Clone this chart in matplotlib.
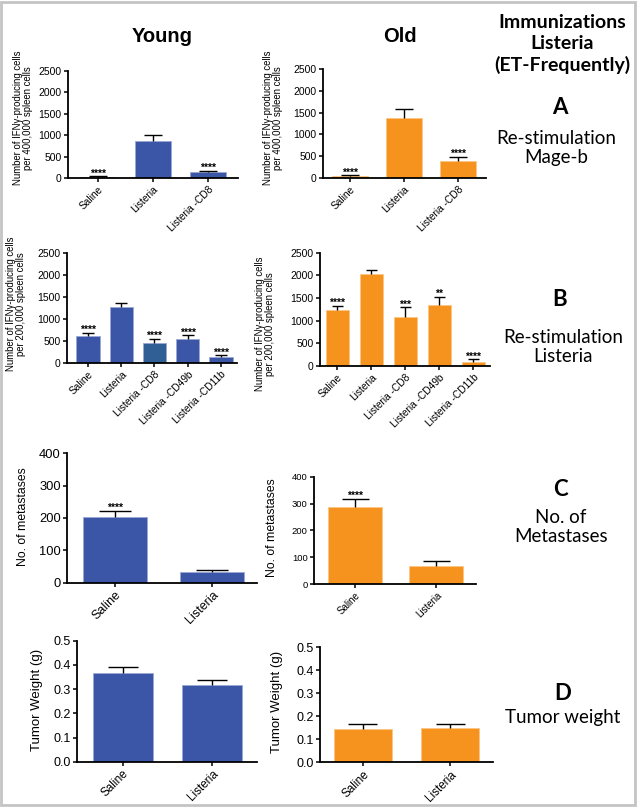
import matplotlib
matplotlib.use("Agg")
import matplotlib.pyplot as plt
from matplotlib.patches import Rectangle

W, H = 638, 809
plt.rcParams['font.family'] = ['Liberation Sans', 'DejaVu Sans']

BLUE = '#3b56a6'
BLUE_CD8 = '#2f5f95'
ORANGE = '#f6931f'

# ---------------- data ----------------
cats_A = ['Saline', 'Listeria', 'Listeria -CD8']
young_A = [30, 860, 130]
young_A_top = [40, 1000, 175]
old_A = [45, 1383, 397]
old_A_top = [60, 1583, 489]
stars_A_young = ['****', '', '****']
stars_A_old = ['****', '', '****']

cats_B = ['Saline', 'Listeria', 'Listeria -CD8', 'Listeria -CD49b', 'Listeria -CD11b']
young_B = [617, 1280, 466, 542, 150]
young_B_top = [692, 1356, 556, 633, 181]
old_B = [1236, 2023, 1074, 1339, 95]
old_B_top = [1324, 2118, 1295, 1529, 148]
stars_B_young = ['****', '', '****', '****', '****']
stars_B_old = ['****', '', '***', '**', '****']

cats_C = ['Saline', 'Listeria']
young_C = [203, 34]
young_C_top = [223, 40]
old_C = [287, 68]
old_C_top = [318, 85]
stars_C = ['****', '']

cats_D = ['Saline', 'Listeria']
young_D = [0.365, 0.317]
young_D_top = [0.391, 0.338]
old_D = [0.145, 0.150]
old_D_top = [0.166, 0.166]

yticks_AB = [0, 500, 1000, 1500, 2000, 2500]
yticks_C = [0, 100, 200, 300, 400]
yticks_D = [0.0, 0.1, 0.2, 0.3, 0.4, 0.5]

fig = plt.figure(figsize=(W / 100, H / 100), dpi=100)


def add_ax(x0, x1, ytop, ybot):
    return fig.add_axes([x0 / W, 1 - ybot / H, (x1 - x0) / W, (ybot - ytop) / H])


def panel(rect, cats, vals, tops, colors, yticks, ytl, xlim, width,
          stars=None, tick_fs=7.5, xfs=7.3, star_fs=7.5, edge='#9aa8d4'):
    ax = add_ax(*rect)
    xs = list(range(len(cats)))
    ax.bar(xs, vals, width=width, color=colors, edgecolor=edge, linewidth=0.6, zorder=2)
    capw = width * 0.25
    for x, v, t in zip(xs, vals, tops):
        ax.vlines(x, v, t, color='black', lw=1.0, zorder=3)
        ax.hlines(t, x - capw, x + capw, color='black', lw=1.0, zorder=3)
    if stars:
        for x, t, s in zip(xs, tops, stars):
            if s:
                ax.annotate(s, (x, t), xytext=(0, -1.5), textcoords='offset points',
                            ha='center', va='bottom', fontsize=star_fs, fontweight='bold')
    ax.set_xlim(*xlim)
    ax.set_ylim(yticks[0], yticks[-1])
    ax.set_yticks(yticks)
    ax.set_yticklabels(ytl, fontsize=tick_fs)
    ax.set_xticks(xs)
    ax.set_xticklabels(cats, rotation=45, ha='right', rotation_mode='anchor', fontsize=xfs)
    for s in ['top', 'right']:
        ax.spines[s].set_visible(False)
    for s in ['left', 'bottom']:
        ax.spines[s].set_linewidth(1.3)
    ax.tick_params(direction='out', length=3, width=1.1, pad=1.5)
    ax.set_facecolor('none')
    return ax


ytl_AB = [str(v) for v in yticks_AB]
ytl_C = [str(v) for v in yticks_C]
ytl_D = ['%.1f' % v for v in yticks_D]

# Panel A
panel((68, 238, 71, 178), cats_A, young_A, young_A_top, BLUE, yticks_AB, ytl_AB,
      (-0.545, 2.545), 0.67, stars_A_young)
panel((323, 486, 69, 178), cats_A, old_A, old_A_top, ORANGE, yticks_AB, ytl_AB,
      (-0.5, 2.52), 0.67, stars_A_old, edge='#fbc584')

# Panel B
panel((67, 237, 252.7, 363.3), cats_B, young_B, young_B_top,
      [BLUE, BLUE, BLUE_CD8, BLUE, BLUE], yticks_AB, ytl_AB,
      (-0.63, 4.48), 0.7, stars_B_young)
panel((320, 490, 252.7, 366), cats_B, old_B, old_B_top, ORANGE, yticks_AB, ytl_AB,
      (-0.51, 4.49), 0.68, stars_B_old, edge='#fbc584')

# Panel C
panel((67, 257, 453.3, 582.7), cats_C, young_C, young_C_top, BLUE, yticks_C, ytl_C,
      (-0.49, 1.46), 0.66, stars_C, tick_fs=9.3, xfs=9)
panel((314, 476, 476.7, 584), cats_C, old_C, old_C_top, ORANGE, yticks_C, ytl_C,
      (-0.51, 1.49), 0.67, stars_C, tick_fs=6.8, xfs=7, edge='#fbc584')

# Panel D
panel((77, 257, 640.7, 761.7), cats_D, young_D, young_D_top, BLUE, yticks_D, ytl_D,
      (-0.51, 1.5), 0.67, None, tick_fs=9, xfs=8.5)
panel((320, 493, 647.3, 762.3), cats_D, old_D, old_D_top, ORANGE, yticks_D, ytl_D,
      (-0.49, 1.49), 0.67, None, tick_fs=9, xfs=8.5, edge='#fbc584')


def ftext(x, y, s, **kw):
    fig.text(x / W, 1 - y / H, s, **kw)


# y labels
lab_A = 'Number of IFNγ-producing cells\nper 400,000 spleen cells'
lab_B = 'Number of IFNγ-producing cells\nper 200,000 spleen cells'
kwl = dict(rotation=90, ha='center', va='center', fontsize=6.9, linespacing=1.0)
ftext(23, 118, lab_A, **kwl)
ftext(273, 118, lab_A, **kwl)
ftext(16, 304, lab_B, **kwl)
ftext(265, 324, lab_B, **kwl)
ftext(23, 517, 'No. of metastases', rotation=90, ha='center', va='center', fontsize=8.8)
ftext(272, 528, 'No. of metastases', rotation=90, ha='center', va='center', fontsize=8.8)
ftext(37, 700, 'Tumor Weight (g)', rotation=90, ha='center', va='center', fontsize=9.5)
ftext(277, 702, 'Tumor Weight (g)', rotation=90, ha='center', va='center', fontsize=9.5)

# headers
ftext(162, 36, 'Young', ha='center', va='center', fontsize=14.5, fontweight='bold')
ftext(400, 37, 'Old', ha='center', va='center', fontsize=14.5, fontweight='bold')

RF = ['Lato', 'DejaVu Sans']
ftext(562, 44, 'Immunizations\nListeria\n(ET-Frequently)', ha='center', va='center',
      fontsize=14, fontweight='bold', family=RF, linespacing=1.3)
ftext(560, 107, 'A', ha='center', va='center', fontsize=16, fontweight='bold', family=RF)
ftext(556, 148, 'Re-stimulation\nMage-b', ha='center', va='center', fontsize=13.5,
      family=RF, linespacing=1.1)
ftext(560, 300, 'B', ha='center', va='center', fontsize=16, fontweight='bold', family=RF)
ftext(563, 347, 'Re-stimulation\nListeria', ha='center', va='center', fontsize=13.5,
      family=RF, linespacing=1.1)
ftext(560, 490, 'C', ha='center', va='center', fontsize=16, fontweight='bold', family=RF)
ftext(561, 527, 'No. of\nMetastases', ha='center', va='center', fontsize=13.5,
      family=RF, linespacing=1.1)
ftext(563, 693, 'D', ha='center', va='center', fontsize=16, fontweight='bold', family=RF)
ftext(563, 718, 'Tumor weight', ha='center', va='center', fontsize=13.5, family=RF)

# border
fig.patches.append(Rectangle((1 / W, 4 / H), (W - 4) / W, (H - 6) / H, transform=fig.transFigure,
                             fill=False, edgecolor='#c4c4c4', linewidth=2))

fig.savefig('out.png', dpi=100)
